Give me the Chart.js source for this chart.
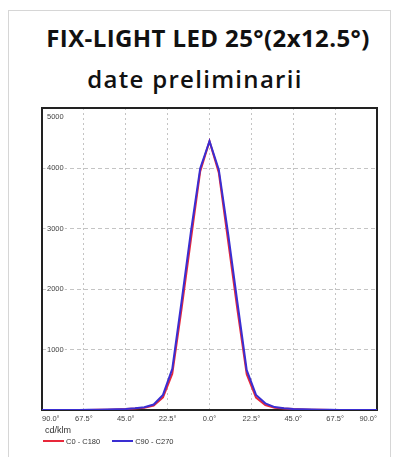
<!DOCTYPE html>
<html>
<head>
<meta charset="utf-8">
<script src="https://cdn.jsdelivr.net/npm/chart.js@4"></script>
<style>
  html, body { margin:0; padding:0; background:#fff; width:401px; height:457px; overflow:hidden; }
  #card { position:absolute; left:8px; top:10px; width:381px; height:470px; border:1px solid #d6d6d6; }
  .ttl { position:absolute; left:0; text-align:center; color:#111; font-family:"Open Sans"; line-height:24px; }
  #t1 { top:26px; width:416px; font-size:24px; font-weight:700; letter-spacing:0.4px; }
  #t2 { top:67px; width:390px; font-size:24px; font-weight:600; letter-spacing:1.3px; }
  #wrap { position:absolute; left:0; top:0; width:401px; height:457px; }
  #unit { position:absolute; left:45px; top:425px; font:9px "Liberation Sans"; color:#333; line-height:11px; }
  #legend { position:absolute; left:43px; top:436px; height:10px; display:flex; align-items:center;
            font:7.5px "Liberation Sans"; color:#333; }
  #legend .item { display:flex; align-items:center; margin-right:12px; }
  #legend .ln { width:21px; height:2px; margin-right:2px; }
</style>
</head>
<body>
<div id="card"></div>
<div class="ttl" id="t1">FIX-LIGHT LED 25°(2x12.5°)</div>
<div class="ttl" id="t2">date preliminarii</div>
<div id="wrap"><canvas id="beam"></canvas></div>
<div id="unit"></div>
<div id="legend"></div>
<script>
/* ---------- Data (gamma angle in degrees, cd/klm) ---------- */
const ANGLES   = [-90,-85,-80,-75,-70,-65,-60,-55,-50,-45,-40,-35,-30,-25,-20,-15,-10,-5,0,
                   5,10,15,20,25,30,35,40,45,50,55,60,65,70,75,80,85,90];
const C0_C180  = [0,0,0,0,1,2,4,6,10,15,24,38,75,210,600,1680,2820,3950,4450,
                  3930,2800,1660,590,205,80,38,24,15,10,6,4,2,1,0,0,0,0];
const C90_C270 = [0,0,0,1,2,3,5,8,12,18,28,45,90,250,680,1800,2950,4000,4450,
                  3980,2920,1780,660,250,110,48,28,18,12,8,5,3,2,1,0,0,0];
const SERIES   = ["C0 - C180", "C90 - C270"];
const COLORS   = ["#e8283a", "#3a2ed2"];
const Y_TICKS  = [0,1000,2000,3000,4000,5000];
const X_TICKS  = [-90,-67.5,-45,-22.5,0,22.5,45,67.5,90];
const UNIT     = "cd/klm";

const pts = vals => ANGLES.map((a,i)=>({x:a, y:vals[i]}));
const tickFont = {family:"Liberation Sans", size:7.5};

/* ---------- legend (below the axis) ---------- */
document.getElementById("unit").textContent = UNIT;
const leg = document.getElementById("legend");
SERIES.forEach((s,i)=>{
  leg.insertAdjacentHTML("beforeend",
    `<div class="item"><div class="ln" style="background:${COLORS[i]}"></div><span>${s}</span></div>`);
});

/* frame round the plot area */
const frame = {
  id:"frame",
  beforeDatasetsDraw(chart){
    const {ctx, chartArea:a} = chart;
    ctx.save();
    ctx.strokeStyle = "#222";
    ctx.lineWidth = 2;
    ctx.strokeRect(a.left, a.top, a.right-a.left, a.bottom-a.top);
    ctx.restore();
  }
};

new Chart(document.getElementById("beam"), {
  type:"line",
  data:{
    datasets:[
      {label:SERIES[0], data:pts(C0_C180), borderColor:COLORS[0], borderWidth:2, pointRadius:0, order:1},
      {label:SERIES[1], data:pts(C90_C270), borderColor:COLORS[1], borderWidth:2, pointRadius:0, order:0}
    ]
  },
  options:{
    responsive:true, maintainAspectRatio:false, animation:false,
    layout:{padding:{left:32, right:24, top:108, bottom:30}},
    plugins:{ tooltip:{enabled:false}, legend:{display:false} },
    scales:{
      x:{
        type:"linear", min:-90, max:90,
        afterBuildTicks: s => { s.ticks = X_TICKS.map(v=>({value:v})); },
        border:{display:false, dash:[2,3]},
        grid:{color:"#c4c4c4", lineWidth:1, drawTicks:false},
        ticks:{font:tickFont, color:"#444", padding:4, align:"inner", maxRotation:0, autoSkip:false,
               callback:v=>Math.abs(v).toFixed(1)+"°"}
      },
      y:{
        min:0, max:5000,
        afterBuildTicks: s => { s.ticks = Y_TICKS.map(v=>({value:v})); },
        border:{display:false, dash:[4,3]},
        grid:{color:"#c4c4c4", lineWidth:1, drawTicks:false},
        ticks:{font:tickFont, color:"#444", mirror:true, padding:5,
               textStrokeColor:"#fff", textStrokeWidth:3,
               callback:v=> v===0 ? "" : (v===5000 ? ["","",String(v)] : String(v))}
      }
    }
  },
  plugins:[frame]
});
</script>
</body>
</html>
